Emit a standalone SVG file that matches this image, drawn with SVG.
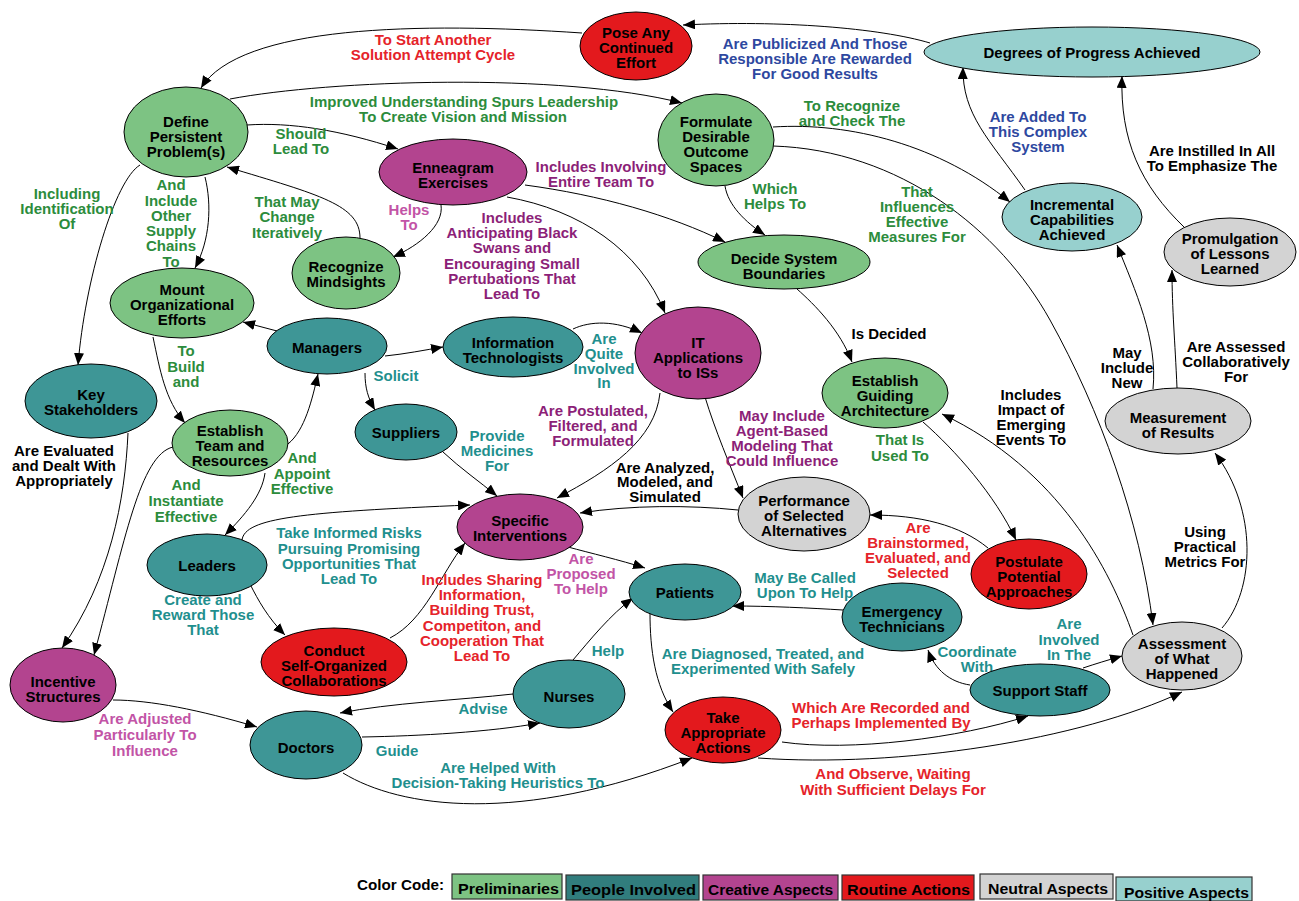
<svg xmlns="http://www.w3.org/2000/svg" width="1299" height="901" viewBox="0 0 1299 901">
<defs>
<marker id="ah" markerUnits="userSpaceOnUse" markerWidth="13" markerHeight="10" refX="12" refY="5" orient="auto">
<path d="M0,0 L12,5 L0,10 z" fill="#000"/>
</marker>
<style>
.e path{fill:none;stroke:#000;stroke-width:1;marker-end:url(#ah)}
ellipse{stroke:#000;stroke-width:1}
text{font-family:"Liberation Sans",Arial,Helvetica,sans-serif;font-weight:bold;font-size:15px;text-anchor:middle}
.pre{fill:#7dc383}.ppl{fill:#3e9696}.cre{fill:#b3448f}.rou{fill:#e3191d}.neu{fill:#d3d3d3}.pos{fill:#97d0ce}
.nt{fill:#000}
.lg{fill:#2c8c3c}.lt{fill:#1f8f8e}.lr{fill:#e5232a}.lb{fill:#2e48a0}.lp{fill:#8c1f78}.lk{fill:#c254a6}.lbk{fill:#000}
.leg{font-size:14px;text-anchor:start}
.box{stroke:#333;stroke-width:1.2}
</style>
</defs>
<rect x="0" y="0" width="1299" height="901" fill="#fff"/>

<g id="connectors" class="e">
<path d="M582,33 C420,22 240,25 201,88"/>
<path d="M930,43 C880,28 780,20 683,25"/>
<path d="M230,99 C330,80 560,72 682,103"/>
<path d="M247,125 C290,122 340,130 398,149"/>
<path d="M140,165 C115,180 85,280 78,365"/>
<path d="M205,177 C212,205 210,240 195,268"/>
<path d="M360,238 C360,205 320,195 227,167"/>
<path d="M441,205 C444,225 420,245 393,257"/>
<path d="M525,185 C600,195 670,215 725,242"/>
<path d="M507,197 C580,210 640,250 665,313"/>
<path d="M725,186 C728,205 745,222 765,235"/>
<path d="M773,127 C850,122 940,145 1010,202"/>
<path d="M773,146 C900,150 1000,230 1050,320 C1100,410 1140,520 1153,625"/>
<path d="M1025,190 C990,140 962,115 963,67"/>
<path d="M1185,228 C1140,185 1120,140 1122,76"/>
<path d="M1153,389 C1158,340 1135,290 1117,245"/>
<path d="M1177,388 C1175,340 1172,310 1172,270"/>
<path d="M277,331 L243,322"/>
<path d="M385,356 C405,354 425,350 443,347"/>
<path d="M365,373 C365,388 368,398 375,410"/>
<path d="M153,337 C160,370 165,400 185,423"/>
<path d="M288,444 C305,430 312,400 318,374"/>
<path d="M265,473 C262,495 245,515 225,535"/>
<path d="M173,447 C140,455 125,540 94,655"/>
<path d="M128,433 C125,500 110,580 62,648"/>
<path d="M242,540 C245,518 300,512 470,505"/>
<path d="M250,584 C258,600 268,618 285,635"/>
<path d="M390,638 C425,620 440,575 465,543"/>
<path d="M443,452 C460,468 480,482 497,496"/>
<path d="M573,329 C590,321 615,320 642,333"/>
<path d="M660,393 C655,440 610,470 557,498"/>
<path d="M705,397 C715,430 730,465 743,498"/>
<path d="M738,510 C690,505 630,505 580,513"/>
<path d="M568,547 C590,553 620,560 645,568"/>
<path d="M573,660 C590,640 610,615 633,598"/>
<path d="M650,613 C650,650 655,685 673,712"/>
<path d="M843,610 C810,608 770,606 732,606"/>
<path d="M970,685 C950,682 935,670 928,650"/>
<path d="M1083,668 C1095,664 1108,660 1122,656"/>
<path d="M782,742 C850,752 960,738 1028,716"/>
<path d="M758,758 C900,768 1080,740 1182,692"/>
<path d="M362,737 C420,736 490,732 540,723"/>
<path d="M513,694 C460,700 390,703 340,713"/>
<path d="M343,773 C400,808 520,825 692,758"/>
<path d="M113,700 C150,700 200,710 257,727"/>
<path d="M988,548 C960,525 920,515 870,515"/>
<path d="M923,422 C955,450 995,495 1016,540"/>
<path d="M797,289 C815,305 840,330 852,362"/>
<path d="M1133,635 C1110,570 1060,470 942,414"/>
<path d="M1222,628 C1255,590 1258,510 1215,453"/>
</g>

<g id="edge-labels">
<text class="lr"><tspan x="433" y="45">To Start Another</tspan><tspan x="433" y="60">Solution Attempt Cycle</tspan></text>
<text class="lb"><tspan x="815" y="49">Are Publicized And Those</tspan><tspan x="815" y="64">Responsible Are Rewarded</tspan><tspan x="815" y="79">For Good Results</tspan></text>
<text class="lg"><tspan x="464" y="107">Improved Understanding Spurs Leadership</tspan><tspan x="463" y="122">To Create Vision and Mission</tspan></text>
<text class="lg"><tspan x="301" y="139">Should</tspan><tspan x="301" y="154">Lead To</tspan></text>
<text class="lg"><tspan x="67" y="199">Including</tspan><tspan x="67" y="214">Identification</tspan><tspan x="67" y="229">Of</tspan></text>
<text class="lg"><tspan x="171" y="190">And</tspan><tspan x="171" y="206">Include</tspan><tspan x="171" y="221">Other</tspan><tspan x="171" y="236">Supply</tspan><tspan x="171" y="251">Chains</tspan><tspan x="171" y="267">To</tspan></text>
<text class="lg"><tspan x="287" y="207">That May</tspan><tspan x="287" y="222">Change</tspan><tspan x="287" y="238">Iteratively</tspan></text>
<text class="lk"><tspan x="409" y="215">Helps</tspan><tspan x="409" y="230">To</tspan></text>
<text class="lp"><tspan x="601" y="172">Includes Involving</tspan><tspan x="601" y="187">Entire Team To</tspan></text>
<text class="lp"><tspan x="512" y="223">Includes</tspan><tspan x="512" y="238">Anticipating Black</tspan><tspan x="512" y="253">Swans and</tspan><tspan x="512" y="269">Encouraging Small</tspan><tspan x="512" y="284">Pertubations That</tspan><tspan x="512" y="299">Lead To</tspan></text>
<text class="lg"><tspan x="775" y="194">Which</tspan><tspan x="775" y="209">Helps To</tspan></text>
<text class="lg"><tspan x="852" y="111">To Recognize</tspan><tspan x="852" y="126">and Check The</tspan></text>
<text class="lg"><tspan x="917" y="197">That</tspan><tspan x="917" y="212">Influences</tspan><tspan x="917" y="227">Effective</tspan><tspan x="917" y="242">Measures For</tspan></text>
<text class="lb"><tspan x="1038" y="122">Are Added To</tspan><tspan x="1038" y="137">This Complex</tspan><tspan x="1038" y="152">System</tspan></text>
<text class="lbk"><tspan x="1212" y="156">Are Instilled In All</tspan><tspan x="1212" y="171">To Emphasize The</tspan></text>
<text class="lbk"><tspan x="1127" y="358">May</tspan><tspan x="1127" y="373">Include</tspan><tspan x="1127" y="388">New</tspan></text>
<text class="lbk"><tspan x="1236" y="352">Are Assessed</tspan><tspan x="1236" y="367">Collaboratively</tspan><tspan x="1236" y="382">For</tspan></text>
<text class="lbk"><tspan x="1205" y="537">Using</tspan><tspan x="1205" y="552">Practical</tspan><tspan x="1205" y="567">Metrics For</tspan></text>
<text class="lbk"><tspan x="1031" y="400">Includes</tspan><tspan x="1031" y="415">Impact of</tspan><tspan x="1031" y="430">Emerging</tspan><tspan x="1031" y="445">Events To</tspan></text>
<text class="lbk" x="889" y="339">Is Decided</text>
<text class="lg"><tspan x="900" y="445">That Is</tspan><tspan x="900" y="461">Used To</tspan></text>
<text class="lr"><tspan x="918" y="533">Are</tspan><tspan x="918" y="548">Brainstormed,</tspan><tspan x="918" y="563">Evaluated, and</tspan><tspan x="918" y="578">Selected</tspan></text>
<text class="lt" x="396" y="381">Solicit</text>
<text class="lg"><tspan x="186" y="356">To</tspan><tspan x="186" y="372">Build</tspan><tspan x="186" y="387">and</tspan></text>
<text class="lbk"><tspan x="64" y="456">Are Evaluated</tspan><tspan x="64" y="471">and Dealt With</tspan><tspan x="64" y="486">Appropriately</tspan></text>
<text class="lg"><tspan x="302" y="463">And</tspan><tspan x="302" y="479">Appoint</tspan><tspan x="302" y="494">Effective</tspan></text>
<text class="lg"><tspan x="186" y="490">And</tspan><tspan x="186" y="506">Instantiate</tspan><tspan x="186" y="522">Effective</tspan></text>
<text class="lt"><tspan x="349" y="538">Take Informed Risks</tspan><tspan x="349" y="554">Pursuing Promising</tspan><tspan x="349" y="569">Opportunities That</tspan><tspan x="349" y="584">Lead To</tspan></text>
<text class="lt"><tspan x="604" y="344">Are</tspan><tspan x="604" y="359">Quite</tspan><tspan x="604" y="374">Involved</tspan><tspan x="604" y="388">In</tspan></text>
<text class="lp"><tspan x="593" y="416">Are Postulated,</tspan><tspan x="593" y="431">Filtered, and</tspan><tspan x="593" y="446">Formulated</tspan></text>
<text class="lt"><tspan x="497" y="441">Provide</tspan><tspan x="497" y="456">Medicines</tspan><tspan x="497" y="471">For</tspan></text>
<text class="lp"><tspan x="782" y="421">May Include</tspan><tspan x="782" y="436">Agent-Based</tspan><tspan x="782" y="451">Modeling That</tspan><tspan x="782" y="466">Could Influence</tspan></text>
<text class="lbk"><tspan x="665" y="473">Are Analyzed,</tspan><tspan x="665" y="487">Modeled, and</tspan><tspan x="665" y="502">Simulated</tspan></text>
<text class="lk"><tspan x="581" y="564">Are</tspan><tspan x="581" y="579">Proposed</tspan><tspan x="581" y="594">To Help</tspan></text>
<text class="lr"><tspan x="482" y="585">Includes Sharing</tspan><tspan x="482" y="600">Information,</tspan><tspan x="482" y="615">Building Trust,</tspan><tspan x="482" y="631">Competiton, and</tspan><tspan x="482" y="646">Cooperation That</tspan><tspan x="482" y="661">Lead To</tspan></text>
<text class="lt"><tspan x="203" y="605">Create and</tspan><tspan x="203" y="620">Reward Those</tspan><tspan x="203" y="635">That</tspan></text>
<text class="lt" x="608" y="656">Help</text>
<text class="lt"><tspan x="805" y="583">May Be Called</tspan><tspan x="805" y="598">Upon To Help</tspan></text>
<text class="lt"><tspan x="763" y="659">Are Diagnosed, Treated, and</tspan><tspan x="763" y="674">Experimented With Safely</tspan></text>
<text class="lt"><tspan x="977" y="657">Coordinate</tspan><tspan x="977" y="672">With</tspan></text>
<text class="lt"><tspan x="1069" y="629">Are</tspan><tspan x="1069" y="645">Involved</tspan><tspan x="1069" y="660">In The</tspan></text>
<text class="lr"><tspan x="881" y="713">Which Are Recorded and</tspan><tspan x="881" y="728">Perhaps Implemented By</tspan></text>
<text class="lr"><tspan x="893" y="779">And Observe, Waiting</tspan><tspan x="893" y="795">With Sufficient Delays For</tspan></text>
<text class="lt" x="483" y="714">Advise</text>
<text class="lt" x="397" y="756">Guide</text>
<text class="lt"><tspan x="498" y="773">Are Helped With</tspan><tspan x="498" y="788">Decision-Taking Heuristics To</tspan></text>
<text class="lk"><tspan x="145" y="724">Are Adjusted</tspan><tspan x="145" y="740">Particularly To</tspan><tspan x="145" y="756">Influence</tspan></text>
</g>

<g id="n-pose"><ellipse class="rou" cx="636" cy="46" rx="56" ry="34"/><text class="nt"><tspan x="636" y="38">Pose Any</tspan><tspan x="636" y="53">Continued</tspan><tspan x="636" y="68">Effort</tspan></text></g>
<g id="n-degrees"><ellipse class="pos" cx="1092" cy="52" rx="168" ry="25"/><text class="nt" x="1092" y="58">Degrees of Progress Achieved</text></g>
<g id="n-define"><ellipse class="pre" cx="186" cy="132" rx="62" ry="45"/><text class="nt"><tspan x="186" y="127">Define</tspan><tspan x="186" y="142">Persistent</tspan><tspan x="186" y="157">Problem(s)</tspan></text></g>
<g id="n-formulate"><ellipse class="pre" cx="716" cy="140" rx="58" ry="46"/><text class="nt"><tspan x="716" y="127">Formulate</tspan><tspan x="716" y="142">Desirable</tspan><tspan x="716" y="157">Outcome</tspan><tspan x="716" y="172">Spaces</tspan></text></g>
<g id="n-enneagram"><ellipse class="cre" cx="453" cy="172" rx="74" ry="33"/><text class="nt"><tspan x="453" y="173">Enneagram</tspan><tspan x="453" y="188">Exercises</tspan></text></g>
<g id="n-recognize"><ellipse class="pre" cx="346" cy="273" rx="54" ry="36"/><text class="nt"><tspan x="346" y="272">Recognize</tspan><tspan x="346" y="287">Mindsights</tspan></text></g>
<g id="n-decide"><ellipse class="pre" cx="784" cy="262" rx="86" ry="27"/><text class="nt"><tspan x="784" y="264">Decide System</tspan><tspan x="784" y="279">Boundaries</tspan></text></g>
<g id="n-incremental"><ellipse class="pos" cx="1072" cy="217" rx="70" ry="34"/><text class="nt"><tspan x="1072" y="210">Incremental</tspan><tspan x="1072" y="225">Capabilities</tspan><tspan x="1072" y="240">Achieved</tspan></text></g>
<g id="n-promulgation"><ellipse class="neu" cx="1230" cy="252" rx="66" ry="34"/><text class="nt"><tspan x="1230" y="244">Promulgation</tspan><tspan x="1230" y="259">of Lessons</tspan><tspan x="1230" y="274">Learned</tspan></text></g>
<g id="n-mount"><ellipse class="pre" cx="182" cy="303" rx="72" ry="35"/><text class="nt"><tspan x="182" y="295">Mount</tspan><tspan x="182" y="310">Organizational</tspan><tspan x="182" y="325">Efforts</tspan></text></g>
<g id="n-managers"><ellipse class="ppl" cx="327" cy="346" rx="60" ry="28"/><text class="nt" x="327" y="353">Managers</text></g>
<g id="n-keystake"><ellipse class="ppl" cx="91" cy="401" rx="66" ry="37"/><text class="nt"><tspan x="91" y="400">Key</tspan><tspan x="91" y="415">Stakeholders</tspan></text></g>
<g id="n-team"><ellipse class="pre" cx="230" cy="443" rx="58" ry="33"/><text class="nt"><tspan x="230" y="436">Establish</tspan><tspan x="230" y="451">Team and</tspan><tspan x="230" y="466">Resources</tspan></text></g>
<g id="n-infotech"><ellipse class="ppl" cx="513" cy="347" rx="70" ry="30"/><text class="nt"><tspan x="513" y="348">Information</tspan><tspan x="513" y="363">Technologists</tspan></text></g>
<g id="n-itapps"><ellipse class="cre" cx="698" cy="353" rx="63" ry="46"/><text class="nt"><tspan x="698" y="348">IT</tspan><tspan x="698" y="363">Applications</tspan><tspan x="698" y="378">to ISs</tspan></text></g>
<g id="n-suppliers"><ellipse class="ppl" cx="406" cy="432" rx="51" ry="28"/><text class="nt" x="406" y="438">Suppliers</text></g>
<g id="n-architecture"><ellipse class="pre" cx="885" cy="393" rx="63" ry="35"/><text class="nt"><tspan x="885" y="386">Establish</tspan><tspan x="885" y="401">Guiding</tspan><tspan x="885" y="416">Architecture</tspan></text></g>
<g id="n-measurement"><ellipse class="neu" cx="1178" cy="421" rx="73" ry="33"/><text class="nt"><tspan x="1178" y="423">Measurement</tspan><tspan x="1178" y="438">of Results</tspan></text></g>
<g id="n-leaders"><ellipse class="ppl" cx="207" cy="565" rx="60" ry="31"/><text class="nt" x="207" y="571">Leaders</text></g>
<g id="n-specific"><ellipse class="cre" cx="520" cy="527" rx="63" ry="33"/><text class="nt"><tspan x="520" y="526">Specific</tspan><tspan x="520" y="541">Interventions</tspan></text></g>
<g id="n-performance"><ellipse class="neu" cx="804" cy="514" rx="66" ry="37"/><text class="nt"><tspan x="804" y="506">Performance</tspan><tspan x="804" y="521">of Selected</tspan><tspan x="804" y="536">Alternatives</tspan></text></g>
<g id="n-postulate"><ellipse class="rou" cx="1029" cy="574" rx="58" ry="35"/><text class="nt"><tspan x="1029" y="567">Postulate</tspan><tspan x="1029" y="582">Potential</tspan><tspan x="1029" y="597">Approaches</tspan></text></g>
<g id="n-patients"><ellipse class="ppl" cx="685" cy="592" rx="56" ry="28"/><text class="nt" x="685" y="598">Patients</text></g>
<g id="n-emergency"><ellipse class="ppl" cx="902" cy="617" rx="60" ry="34"/><text class="nt"><tspan x="902" y="617">Emergency</tspan><tspan x="902" y="632">Technicians</tspan></text></g>
<g id="n-incentive"><ellipse class="cre" cx="63" cy="685" rx="53" ry="37"/><text class="nt"><tspan x="63" y="687">Incentive</tspan><tspan x="63" y="702">Structures</tspan></text></g>
<g id="n-conduct"><ellipse class="rou" cx="334" cy="662" rx="73" ry="34"/><text class="nt"><tspan x="334" y="656">Conduct</tspan><tspan x="334" y="671">Self-Organized</tspan><tspan x="334" y="686">Collaborations</tspan></text></g>
<g id="n-nurses"><ellipse class="ppl" cx="569" cy="694" rx="56" ry="34"/><text class="nt" x="569" y="702">Nurses</text></g>
<g id="n-doctors"><ellipse class="ppl" cx="306" cy="745" rx="56" ry="34"/><text class="nt" x="306" y="753">Doctors</text></g>
<g id="n-take"><ellipse class="rou" cx="723" cy="730" rx="58" ry="33"/><text class="nt"><tspan x="723" y="723">Take</tspan><tspan x="723" y="738">Appropriate</tspan><tspan x="723" y="753">Actions</tspan></text></g>
<g id="n-support"><ellipse class="ppl" cx="1040" cy="690" rx="70" ry="26"/><text class="nt" x="1040" y="696">Support Staff</text></g>
<g id="n-assessment"><ellipse class="neu" cx="1182" cy="656" rx="60" ry="34"/><text class="nt"><tspan x="1182" y="649">Assessment</tspan><tspan x="1182" y="664">of What</tspan><tspan x="1182" y="679">Happened</tspan></text></g>

<g id="legend">
<text class="leg" x="357" y="890" textLength="87" lengthAdjust="spacingAndGlyphs">Color Code:</text>
<rect class="box pre" x="452" y="874" width="110" height="25"/>
<text class="leg" x="458" y="894" textLength="101" lengthAdjust="spacingAndGlyphs">Preliminaries</text>
<rect class="box" x="566" y="875" width="133" height="25" fill="#317d7d"/>
<text class="leg" x="571" y="895" textLength="125" lengthAdjust="spacingAndGlyphs">People Involved</text>
<rect class="box cre" x="703" y="875" width="135" height="25"/>
<text class="leg" x="708" y="895" textLength="125" lengthAdjust="spacingAndGlyphs">Creative Aspects</text>
<rect class="box rou" x="842" y="875" width="132" height="25"/>
<text class="leg" x="847" y="895" textLength="123" lengthAdjust="spacingAndGlyphs">Routine Actions</text>
<rect class="box neu" x="980" y="874" width="133" height="25"/>
<text class="leg" x="988" y="894" textLength="120" lengthAdjust="spacingAndGlyphs">Neutral Aspects</text>
<rect class="box pos" x="1116" y="877" width="136" height="24"/>
<text class="leg" x="1124" y="898" textLength="125" lengthAdjust="spacingAndGlyphs">Positive Aspects</text>
</g>
</svg>
